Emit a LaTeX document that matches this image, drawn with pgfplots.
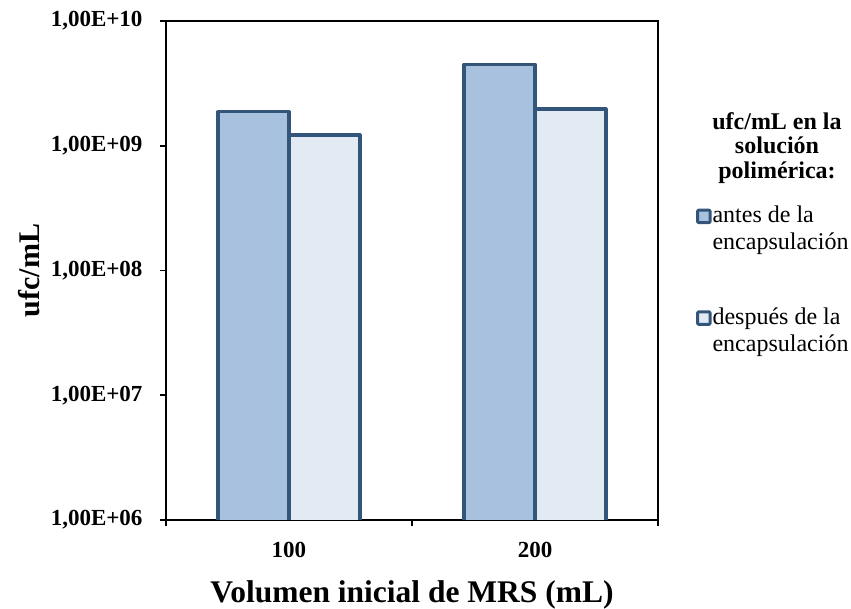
\documentclass[border=0pt]{standalone}
\usepackage{pgfplots}
\pgfplotsset{compat=1.18}
\usepackage{fontspec}
\setmainfont{Liberation Serif}
\definecolor{edgeblue}{HTML}{33557A}
\definecolor{fillA}{HTML}{A7C1DE}
\definecolor{fillB}{HTML}{E2EAF4}
\begin{document}
\begin{tikzpicture}
\useasboundingbox (-166pt,-88pt) rectangle (685pt,520pt);
\begin{axis}[
  at={(0pt,0pt)}, anchor=south west,
  scale only axis, width=492pt, height=499pt,
  ymode=log, ymin=1e6, ymax=1e10,
  xmin=-0.5, xmax=1.5,
  ybar=0pt, bar width=71pt,
  axis line style={black, line width=1.8pt},
  ytick={1e6,1e7,1e8,1e9,1e10},
  yticklabels={{1,00E+06},{1,00E+07},{1,00E+08},{1,00E+09},{1,00E+10}},
  yminorticks=false,
  xtick={0,1}, xticklabels={100,200},
  minor xtick={-0.5,0.5,1.5},
  major x tick style={draw=none},
  tick align=outside,
  major tick length=6pt, minor tick length=6pt,
  tick style={black, line width=1.8pt},
  ytick pos=left, xtick pos=bottom,
  every tick label/.append style={font=\fontsize{23}{25}\selectfont\bfseries},
  yticklabel style={xshift=-14pt},
  xticklabel style={yshift=-13pt},
  xlabel={Volumen inicial de MRS (mL)},
  ylabel={ufc/mL},
  xlabel style={font=\fontsize{31.5}{34}\selectfont\bfseries, yshift=-16pt},
  ylabel style={font=\fontsize{30}{32}\selectfont\bfseries, yshift=4pt},
  legend style={draw=none, fill=none, inner sep=0pt, at={(axis description cs:1.077,0.632)}, anchor=north west,
    font=\fontsize{24}{27.5}\selectfont, row sep=54pt, nodes={align=left, inner sep=1pt}},
  legend cell align=left,
  legend image code/.code={\draw[#1, line width=3pt, rounded corners=1pt] (1.5pt,6pt) rectangle (14pt,18.5pt);},
]
\addplot[fill=fillA, draw=edgeblue, line width=3.2pt, line join=round] coordinates {(0,1.87e9) (1,4.5e9)};
\addplot[fill=fillB, draw=edgeblue, line width=3.2pt, line join=round] coordinates {(0,1.22e9) (1,1.97e9)};
\legend{{antes de la\\encapsulación},{después de la\\encapsulación}}
\end{axis}
\node[align=center, font=\fontsize{24}{24.8}\selectfont\bfseries, anchor=center] at (611pt,372pt) {ufc/mL en la\\solución\\polimérica:};
\end{tikzpicture}
\end{document}
